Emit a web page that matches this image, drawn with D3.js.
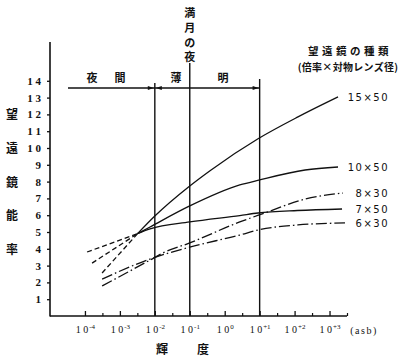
<!DOCTYPE html>
<html><head><meta charset="utf-8">
<script src="https://cdn.jsdelivr.net/npm/d3@7"></script>
<style>
body{margin:0;background:#fff;}
svg{display:block;}
</style></head>
<body>
<svg id="c" width="400" height="357"></svg>
<script>
// ---- data (luminance in asb, efficiency) ----
const xMajor = [1e-4, 1e-3, 1e-2, 1e-1, 1, 10, 100, 1000];
const xExp = ["-4", "-3", "-2", "-1", "0", "+1", "+2", "+3"];
const xMinor = [3.16e-4, 3.16e-3, 3.16e-2, 0.316, 3.16, 31.6, 316, 3162];
const yTicks = [1,2,3,4,5,6,7,8,9,10,11,12,13,14];
const periodMarks = [1e-2, 1e-1, 10];          // 夜間|薄明 boundaries
const converge = 3.2e-3;                        // dashed -> solid for 50mm types

const lum15x50 = [3.1e-4, 3.2e-3, 0.01, 0.1, 0.38, 9, 125, 1750];
const v15x50   = [2.56, 4.9, 5.95, 7.74, 8.65, 10.55, 11.85, 13.04];
const lum10x50 = [1.6e-4, 3.2e-3, 7.3e-3, 0.1, 2.7, 10, 200, 1750];
const v10x50   = [3.15, 4.9, 5.3, 6.55, 7.8, 8.1, 8.69, 8.87];
const lum7x50  = [1.15e-4, 3.2e-3, 7.3e-3, 0.1, 2.7, 9, 120, 2280];
const v7x50    = [3.81, 4.9, 5.18, 5.6, 5.98, 6.13, 6.28, 6.37];
const lum8x30  = [3.1e-4, 7.3e-3, 0.017, 0.1, 2.7, 14, 200, 2430];
const v8x30    = [1.79, 3.33, 3.75, 4.35, 5.6, 6.13, 6.96, 7.32];
const lum6x30  = [3.1e-4, 7.3e-3, 0.1, 2.7, 9, 125, 2770];
const v6x30    = [2.2, 3.39, 4.1, 4.82, 5.12, 5.42, 5.54];

const seriesNames = ["15×50", "10×50", "8×30", "7×50", "6×30"];

// ---- drawing ----
const svg = d3.select("#c");
const x = d3.scaleLog().domain([1e-5, 3162]).range([50, 347]);
const y = d3.scaleLinear().domain([0, 14]).range([316, 80.8]);
const ink = "#111";
const jp = "'Noto Sans CJK JP', sans-serif";

// axes lines
svg.append("line").attr("x1", 50).attr("x2", 50).attr("y1", y(0)+0.5).attr("y2", 42)
  .attr("stroke", ink).attr("stroke-width", 1.6);
svg.append("line").attr("x1", 50).attr("x2", 347).attr("y1", y(0)).attr("y2", y(0))
  .attr("stroke", ink).attr("stroke-width", 1.6);

// y axis
const gy = svg.append("g").attr("transform", "translate(50,0)")
  .call(d3.axisLeft(y).tickValues(yTicks).tickSize(3).tickPadding(6)
        .tickFormat(d => String(d).split("").join(" ")));
gy.select(".domain").remove();
gy.selectAll(".tick line").attr("stroke", ink).attr("stroke-width", 1.3);
gy.selectAll(".tick text").attr("font-family", "'Liberation Serif', serif")
  .attr("font-weight", "bold").attr("font-size", 11).attr("fill", ink);

// x axis (inward ticks)
const gx = svg.append("g").attr("transform", `translate(0,${y(0)})`)
  .call(d3.axisBottom(x).tickValues(xMajor).tickSize(-5).tickPadding(10).tickFormat(() => ""));
gx.select(".domain").remove();
gx.selectAll(".tick line").attr("stroke", ink).attr("stroke-width", 1.3);
gx.selectAll(".tick text").attr("font-family", "'Liberation Serif', serif")
  .attr("font-size", 10).attr("fill", ink)
  .each(function(d, i) {
    const t = d3.select(this);
    t.append("tspan").text("1 0");
    t.append("tspan").attr("dy", -4).attr("font-size", 7).attr("dx", 1).text(xExp[i]);
  });
const gxm = svg.append("g").attr("transform", `translate(0,${y(0)})`)
  .call(d3.axisBottom(x).tickValues(xMinor).tickSize(-3).tickFormat(() => ""));
gxm.select(".domain").remove();
gxm.selectAll(".tick line").attr("stroke", ink).attr("stroke-width", 1.2);

svg.append("text").attr("x", 364).attr("y", 334).attr("text-anchor", "middle")
  .attr("font-family", "'Liberation Serif', serif").attr("font-size", 10)
  .attr("letter-spacing", 1.5).attr("fill", ink).text("(asb)");

// x title
svg.append("text").attr("x", 162).attr("y", 354).attr("text-anchor", "middle")
  .attr("font-family", jp).attr("font-weight", "bold").attr("font-size", 12).attr("fill", ink).text("輝");
svg.append("text").attr("x", 203).attr("y", 354).attr("text-anchor", "middle")
  .attr("font-family", jp).attr("font-weight", "bold").attr("font-size", 12).attr("fill", ink).text("度");

// y title
const yTitle = ["望", "遠", "鏡", "能", "率"];
svg.selectAll(".ytitle").data(yTitle).enter().append("text")
  .attr("x", 12).attr("y", (d, i) => y(12 - 2 * i) + 5).attr("text-anchor", "middle")
  .attr("font-family", jp).attr("font-weight", "bold").attr("font-size", 12).attr("fill", ink)
  .text(d => d);

// period vertical lines
const tops = [83, 63, 79];
periodMarks.forEach((m, i) => {
  svg.append("line").attr("x1", x(m)).attr("x2", x(m)).attr("y1", y(0)).attr("y2", tops[i])
    .attr("stroke", ink).attr("stroke-width", 1.4);
});
// arrow line
const ay = 88;
svg.append("line").attr("x1", 68).attr("x2", x(10)).attr("y1", ay).attr("y2", ay)
  .attr("stroke", ink).attr("stroke-width", 1.3);
function arrow(tipX, dir) {
  svg.append("path").attr("d", `M${tipX},${ay} L${tipX - dir*6},${ay-2} L${tipX - dir*6},${ay+2} Z`).attr("fill", ink);
}
arrow(x(1e-2) - 1, 1);
arrow(x(1e-2) + 1, -1);
arrow(x(10) - 1, 1);

const labStyle = t => t.attr("font-family", jp).attr("font-weight", "bold").attr("font-size", 11)
  .attr("text-anchor", "middle").attr("fill", ink);
[["夜", 92], ["間", 120], ["薄", 176], ["明", 223]].forEach(([s, px]) =>
  svg.append("text").attr("x", px).attr("y", 82).text(s).call(labStyle));
["満", "月", "の", "夜"].forEach((s, i) =>
  svg.append("text").attr("x", x(0.1)).attr("y", 17 + i * 14.8).text(s).call(labStyle));

// legend title
svg.append("text").attr("x", 350).attr("y", 55).attr("text-anchor", "middle")
  .attr("font-family", jp).attr("font-weight", "bold").attr("font-size", 10.5)
  .attr("letter-spacing", 3.5).attr("fill", ink).text("望遠鏡の種類");
svg.append("text").attr("x", 348).attr("y", 71).attr("text-anchor", "middle")
  .attr("font-family", jp).attr("font-weight", "bold").attr("font-size", 10)
  .attr("letter-spacing", 0.3).attr("fill", ink).text("(倍率×対物レンズ径)");

// curves
const line = d3.line().x(d => x(d[0])).y(d => y(d[1])).curve(d3.curveMonotoneX);
const pairs = (l, v) => l.map((d, i) => [d, v[i]]);
const s50 = [pairs(lum15x50, v15x50), pairs(lum10x50, v10x50), pairs(lum7x50, v7x50)];
s50.forEach(pts => {
  svg.append("path").attr("d", line(pts.filter(p => p[0] <= converge)))
    .attr("fill", "none").attr("stroke", ink).attr("stroke-width", 1.3).attr("stroke-dasharray", "5,3");
  svg.append("path").attr("d", line(pts.filter(p => p[0] >= converge)))
    .attr("fill", "none").attr("stroke", ink).attr("stroke-width", 1.3);
});
const s30 = [pairs(lum8x30, v8x30), pairs(lum6x30, v6x30)];
s30.forEach(pts => {
  svg.append("path").attr("d", line(pts))
    .attr("fill", "none").attr("stroke", ink).attr("stroke-width", 1.3)
    .attr("stroke-dasharray", "11,3,1.5,3");
});

// series labels
const labelY = [v15x50[v15x50.length-1], v10x50[v10x50.length-1], v8x30[v8x30.length-1], v7x50[v7x50.length-1], v6x30[v6x30.length-1]];
svg.selectAll(".slab").data(seriesNames).enter().append("text")
  .attr("x", 389).attr("y", (d, i) => y(labelY[i]) + 4).attr("text-anchor", "end")
  .attr("font-family", "'DejaVu Sans', sans-serif").attr("font-size", 10)
  .attr("letter-spacing", 1.5).attr("fill", ink).text(d => d);
</script>
</body></html>
